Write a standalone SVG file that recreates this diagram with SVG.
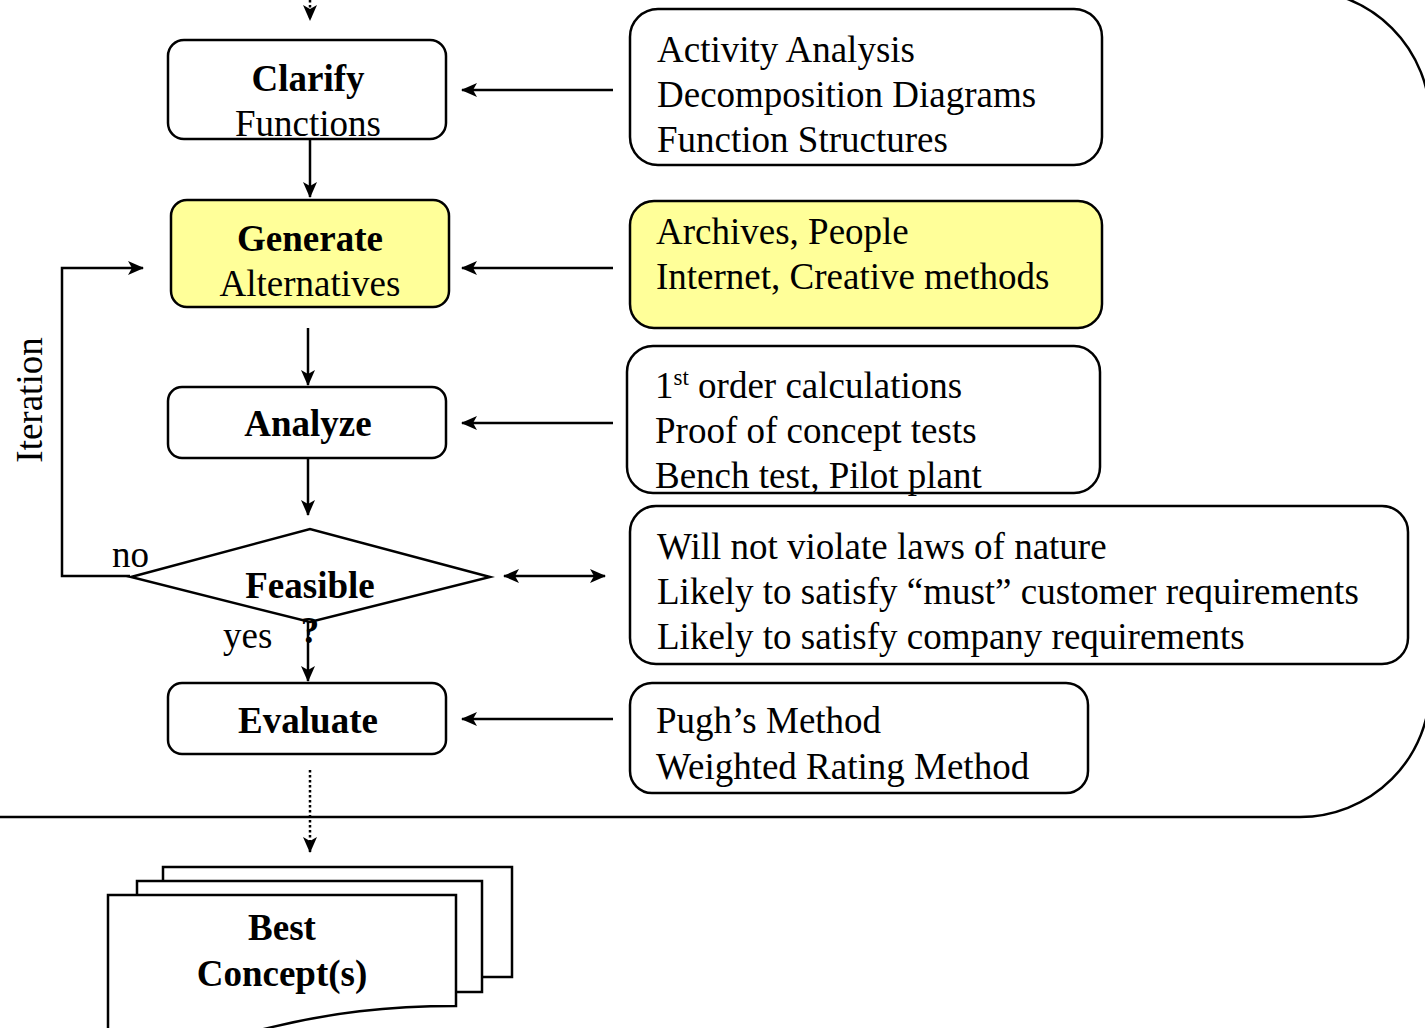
<svg xmlns="http://www.w3.org/2000/svg" width="1425" height="1028" viewBox="0 0 1425 1028">
<style>
text{font-family:"Liberation Serif","Times New Roman",serif;font-size:37px;fill:#000}
.b{font-weight:bold}
.c{text-anchor:middle}
.box{fill:#fff;stroke:#000;stroke-width:2.5}
.yel{fill:#FFFF99}
.ln{fill:none;stroke:#000;stroke-width:2.5}
.dot{fill:none;stroke:#000;stroke-width:2.5;stroke-dasharray:2.5 2.5}
</style>
<defs>
<marker id="ah" viewBox="0 0 16 14" refX="15" refY="7" markerWidth="16" markerHeight="14" markerUnits="userSpaceOnUse" orient="auto-start-reverse">
<path d="M0,0 L16,7 L0,14 L4,7 Z" fill="#000"/>
</marker>
</defs>
<g id="boundary">
<path class="ln" d="M0,817 H1300 A130,130 0 0 0 1430,687 V120 A130,130 0 0 0 1300,-10"/>
</g>
<g id="connectors">
<line class="dot" x1="310" y1="0" x2="310" y2="20" marker-end="url(#ah)"/>
<line class="ln" x1="310" y1="140" x2="310" y2="197" marker-end="url(#ah)"/>
<line class="ln" x1="308" y1="328" x2="308" y2="385" marker-end="url(#ah)"/>
<line class="ln" x1="308" y1="459" x2="308" y2="515" marker-end="url(#ah)"/>
<line class="ln" x1="308" y1="622" x2="308" y2="681" marker-end="url(#ah)"/>
<line class="dot" x1="310" y1="770" x2="310" y2="852" marker-end="url(#ah)"/>
<polyline class="ln" points="130,576 62,576 62,268 143,268" marker-end="url(#ah)"/>
<line class="ln" x1="613" y1="90" x2="462" y2="90" marker-end="url(#ah)"/>
<line class="ln" x1="613" y1="268" x2="462" y2="268" marker-end="url(#ah)"/>
<line class="ln" x1="613" y1="423" x2="462" y2="423" marker-end="url(#ah)"/>
<line class="ln" x1="504" y1="576" x2="605" y2="576" marker-start="url(#ah)" marker-end="url(#ah)"/>
<line class="ln" x1="613" y1="719" x2="462" y2="719" marker-end="url(#ah)"/>
<text x="42" y="400" class="c" transform="rotate(-90 42 400)">Iteration</text>
<text x="112" y="567">no</text>
<text x="223" y="648">yes</text>
</g>
<g id="clarify">
<rect class="box" x="168" y="40" width="278" height="99" rx="16"/>
<text x="308" y="91" class="b c">Clarify</text>
<text x="308" y="136" class="c">Functions</text>
</g>
<g id="generate">
<rect class="box yel" x="171" y="200" width="278" height="107" rx="16"/>
<text x="310" y="251" class="b c">Generate</text>
<text x="310" y="296" class="c">Alternatives</text>
</g>
<g id="analyze">
<rect class="box" x="168" y="387" width="278" height="71" rx="14"/>
<text x="308" y="436" class="b c">Analyze</text>
</g>
<g id="feasible">
<polygon class="box" points="131,577 310,529 490,577 310,622"/>
<text x="310" y="598" class="b c">Feasible</text>
<text x="310" y="643" class="b c">?</text>
</g>
<g id="evaluate">
<rect class="box" x="168" y="683" width="278" height="71" rx="14"/>
<text x="308" y="733" class="b c">Evaluate</text>
</g>
<g id="best">
<rect class="box" x="163" y="867" width="349" height="110"/>
<rect class="box" x="137" y="881" width="345" height="111"/>
<path class="box" d="M108,1030 V895 H456 V1006 C390,1006 330,1012 260,1030 Z"/>
<text x="282" y="940" class="b c">Best</text>
<text x="282" y="986" class="b c">Concept(s)</text>
</g>
<g id="tools-clarify">
<rect class="box" x="630" y="9" width="472" height="156" rx="28"/>
<text x="657" y="62">Activity Analysis</text>
<text x="657" y="107">Decomposition Diagrams</text>
<text x="657" y="152">Function Structures</text>
</g>
<g id="tools-generate">
<rect class="box yel" x="630" y="201" width="472" height="127" rx="24"/>
<text x="656" y="244">Archives, People</text>
<text x="656" y="289">Internet, Creative methods</text>
</g>
<g id="tools-analyze">
<rect class="box" x="627" y="346" width="473" height="147" rx="26"/>
<text x="655" y="398">1<tspan font-size="23" dy="-13">st</tspan><tspan dy="13"> order calculations</tspan></text>
<text x="655" y="443">Proof of concept tests</text>
<text x="655" y="488">Bench test, Pilot plant</text>
</g>
<g id="tools-feasible">
<rect class="box" x="630" y="506" width="778" height="158" rx="26"/>
<text x="657" y="559">Will not violate laws of nature</text>
<text x="657" y="604">Likely to satisfy “must” customer requirements</text>
<text x="657" y="649">Likely to satisfy company requirements</text>
</g>
<g id="tools-evaluate">
<rect class="box" x="630" y="683" width="458" height="110" rx="22"/>
<text x="656" y="733">Pugh’s Method</text>
<text x="656" y="779">Weighted Rating Method</text>
</g>
</svg>
